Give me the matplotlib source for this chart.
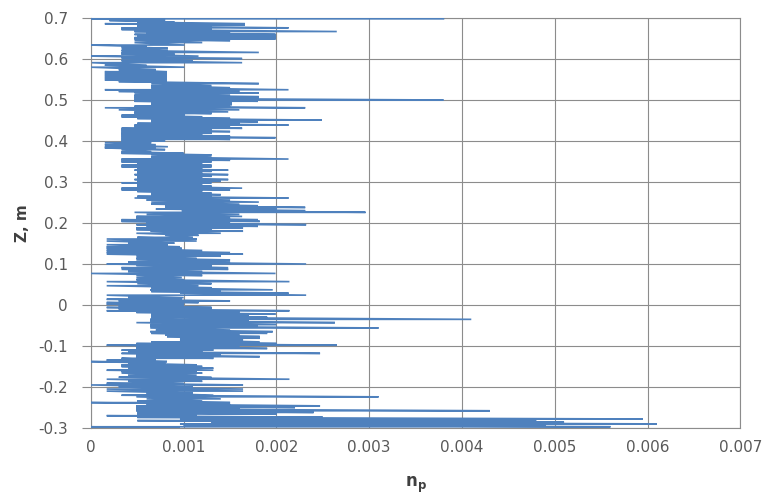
import matplotlib
matplotlib.use('Agg')
import matplotlib.pyplot as plt

# Concentration profile n_p over height Z.
# Each row is one stroke of the zigzag trace: height (m), left and right end (x 1e-3)
z_rows = [
    -0.300, -0.297, -0.293, -0.290, -0.286, -0.282, -0.278, -0.274, -0.270, -0.266,
    -0.262, -0.258, -0.254, -0.250, -0.246, -0.242, -0.238, -0.234, -0.229, -0.224,
    -0.220, -0.215, -0.210, -0.205, -0.200, -0.195, -0.191, -0.186, -0.181, -0.176,
    -0.171, -0.166, -0.162, -0.159, -0.154, -0.150, -0.146, -0.142, -0.138, -0.134,
    -0.130, -0.126, -0.122, -0.118, -0.114, -0.110, -0.106, -0.102, -0.098, -0.094,
    -0.090, -0.085, -0.081, -0.077, -0.073, -0.069, -0.065, -0.061, -0.056, -0.052,
    -0.048, -0.043, -0.039, -0.035, -0.030, -0.026, -0.022, -0.018, -0.014, -0.010,
    -0.006, -0.002, 0.002, 0.006, 0.010, 0.014, 0.018, 0.024, 0.029, 0.033,
    0.037, 0.042, 0.047, 0.052, 0.057, 0.062, 0.067, 0.072, 0.077, 0.082,
    0.087, 0.091, 0.096, 0.100, 0.105, 0.110, 0.114, 0.119, 0.124, 0.128,
    0.133, 0.138, 0.142, 0.147, 0.151, 0.156, 0.161, 0.165, 0.170, 0.175,
    0.180, 0.184, 0.188, 0.192, 0.196, 0.200, 0.204, 0.208, 0.212, 0.216,
    0.221, 0.226, 0.230, 0.234, 0.238, 0.242, 0.246, 0.251, 0.256, 0.261,
    0.265, 0.269, 0.273, 0.277, 0.281, 0.285, 0.290, 0.294, 0.298, 0.302,
    0.306, 0.310, 0.314, 0.318, 0.322, 0.326, 0.329, 0.333, 0.337, 0.341,
    0.345, 0.349, 0.353, 0.356, 0.361, 0.366, 0.370, 0.374, 0.379, 0.383,
    0.386, 0.391, 0.396, 0.400, 0.404, 0.408, 0.412, 0.416, 0.419, 0.423,
    0.427, 0.431, 0.435, 0.439, 0.443, 0.447, 0.451, 0.455, 0.459, 0.463,
    0.467, 0.471, 0.476, 0.481, 0.485, 0.489, 0.493, 0.497, 0.500, 0.504,
    0.508, 0.512, 0.517, 0.521, 0.525, 0.530, 0.535, 0.540, 0.545, 0.549,
    0.553, 0.557, 0.561, 0.565, 0.569, 0.574, 0.580, 0.585, 0.591, 0.596,
    0.601, 0.604, 0.607, 0.612, 0.616, 0.621, 0.626, 0.630, 0.634, 0.640,
    0.645, 0.649, 0.652, 0.656, 0.660, 0.664, 0.667, 0.672, 0.676, 0.680,
    0.683, 0.686, 0.690, 0.694, 0.698,
]
left = [
    0.00, 0.00, 1.00, 0.96, 1.30, 0.50, 0.96, 0.50, 0.17, 0.50,
    0.50, 0.49, 0.49, 0.49, 0.49, 0.60, 0.00, 0.50, 0.60, 0.49,
    0.33, 0.60, 0.17, 0.17, 0.30, 0.00, 0.17, 0.40, 0.17, 0.30,
    0.40, 0.33, 0.33, 0.17, 0.40, 0.33, 0.33, 0.40, 0.00, 0.17,
    0.33, 0.49, 0.49, 0.33, 0.40, 0.33, 0.49, 0.49, 0.17, 0.49,
    0.65, 0.96, 0.96, 0.82, 0.80, 0.65, 0.64, 0.70, 0.64, 0.64,
    0.64, 0.49, 0.64, 0.64, 0.65, 0.65, 0.65, 0.49, 0.17, 0.30,
    0.17, 0.30, 0.17, 0.17, 0.30, 0.17, 0.40, 0.17, 0.96, 0.65,
    0.64, 0.65, 0.17, 0.50, 0.17, 0.49, 0.49, 0.49, 0.00, 0.40,
    0.33, 0.33, 0.49, 0.17, 0.40, 0.49, 0.49, 0.49, 0.17, 0.17,
    0.17, 0.17, 0.17, 0.17, 0.40, 0.17, 0.17, 0.50, 0.80, 0.49,
    0.64, 0.49, 0.49, 0.60, 0.49, 0.60, 0.33, 0.33, 0.49, 0.49,
    0.60, 0.47, 0.98, 0.70, 0.80, 0.80, 0.65, 0.65, 0.60, 0.47,
    0.50, 0.65, 0.65, 0.50, 0.33, 0.33, 0.50, 0.50, 0.33, 0.50,
    0.47, 0.50, 0.50, 0.47, 0.50, 0.50, 0.47, 0.50, 0.33, 0.33,
    0.50, 0.33, 0.33, 0.33, 0.65, 0.65, 0.33, 0.33, 0.33, 0.15,
    0.15, 0.15, 0.15, 0.33, 0.33, 0.33, 0.33, 0.33, 0.33, 0.33,
    0.33, 0.33, 0.47, 0.47, 0.50, 0.65, 0.65, 0.50, 0.33, 0.33,
    0.47, 0.47, 0.30, 0.15, 0.47, 0.65, 0.65, 0.47, 0.47, 0.47,
    0.47, 0.47, 0.47, 0.30, 0.15, 0.65, 0.65, 0.65, 0.30, 0.15,
    0.15, 0.15, 0.15, 0.15, 0.15, 0.30, 0.00, 0.15, 0.01, 0.33,
    0.33, 0.33, 0.00, 0.33, 0.33, 0.33, 0.33, 0.33, 0.00, 0.47,
    0.47, 0.47, 0.47, 0.50, 0.47, 0.60, 0.47, 0.33, 0.33, 0.50,
    0.50, 0.15, 0.50, 0.20, 0.00,
]
right = [
    0.96, 5.60, 4.90, 6.10, 5.10, 4.80, 5.95, 2.50, 1.14, 2.00,
    2.40, 4.30, 1.60, 2.20, 2.47, 1.50, 1.50, 1.20, 1.40, 3.10,
    1.32, 1.10, 1.64, 1.64, 1.10, 1.64, 1.00, 1.20, 2.14, 1.30,
    1.14, 1.20, 1.14, 1.32, 1.32, 1.20, 1.14, 0.80, 0.82, 0.70,
    1.32, 1.82, 1.40, 2.47, 1.20, 1.32, 1.90, 1.60, 2.65, 2.00,
    1.82, 1.64, 1.82, 1.82, 1.60, 1.90, 1.96, 1.50, 3.10, 1.80,
    2.00, 2.63, 1.70, 4.10, 1.90, 1.70, 1.99, 1.60, 2.14, 1.30,
    1.30, 1.00, 1.00, 1.16, 1.50, 0.98, 1.00, 2.32, 2.13, 1.40,
    1.96, 1.30, 1.16, 1.30, 2.14, 1.00, 0.98, 1.20, 1.99, 1.20,
    1.48, 1.48, 1.30, 2.32, 1.50, 1.50, 1.14, 1.40, 1.64, 1.50,
    1.20, 0.98, 0.96, 0.83, 0.90, 1.14, 1.14, 1.10, 1.16, 1.40,
    1.64, 1.30, 1.64, 1.80, 2.32, 1.50, 1.82, 1.80, 1.50, 1.63,
    1.60, 2.96, 2.31, 2.00, 2.31, 1.80, 1.60, 1.81, 1.50, 2.13,
    1.30, 1.40, 1.30, 1.20, 1.50, 1.63, 1.30, 1.20, 1.30, 1.40,
    1.48, 1.20, 1.30, 1.48, 1.20, 1.30, 1.48, 1.20, 1.30, 1.30,
    1.20, 1.30, 1.50, 2.13, 1.30, 1.30, 1.00, 0.65, 0.80, 0.70,
    0.83, 0.70, 0.65, 0.80, 1.50, 1.99, 1.50, 1.20, 1.30, 1.50,
    1.30, 1.63, 1.50, 2.13, 1.60, 1.80, 2.49, 1.50, 1.20, 1.01,
    1.30, 1.48, 1.60, 2.31, 1.50, 1.52, 1.52, 1.80, 3.80, 1.81,
    1.81, 1.50, 1.81, 1.60, 2.13, 1.50, 1.30, 1.81, 0.82, 0.82,
    0.82, 0.82, 0.82, 0.82, 0.82, 0.70, 1.01, 0.60, 1.63, 1.10,
    1.63, 0.80, 1.16, 0.90, 1.81, 0.83, 0.83, 0.60, 1.01, 1.20,
    1.50, 1.99, 1.99, 1.99, 1.99, 1.50, 2.65, 1.30, 2.13, 1.30,
    1.66, 1.66, 0.90, 0.80, 3.80,
]
assert len(z_rows) == len(left) == len(right)

x_ticks = [0, 0.001, 0.002, 0.003, 0.004, 0.005, 0.006, 0.007]
x_labels = ['0', '0.001', '0.002', '0.003', '0.004', '0.005', '0.006', '0.007']
z_ticks = [-0.3, -0.2, -0.1, 0, 0.1, 0.2, 0.3, 0.4, 0.5, 0.6, 0.7]
z_labels = ['-0.3', '-0.2', '-0.1', '0', '0.1', '0.2', '0.3', '0.4', '0.5', '0.6', '0.7']

# flatten rows into one continuous trace
zs, xs = [], []
for z, a, b in zip(z_rows, left, right):
    zs += [z, z]
    xs += [a * 1e-3, b * 1e-3]

grid_col = '#8c8c8c'
text_col = '#595959'

fig = plt.figure(figsize=(7.64, 5.0), dpi=100)
ax = fig.add_axes([0.119, 0.144, 0.850, 0.820])

ax.plot(xs, zs, color='#4f81bd', lw=1.2, solid_joinstyle='miter', zorder=3)

ax.set_xlim(0, 0.007)
ax.set_ylim(-0.3, 0.7)
ax.set_xticks(x_ticks)
ax.set_xticklabels(x_labels)
ax.set_yticks(z_ticks)
ax.set_yticklabels(z_labels)
ax.grid(True, color=grid_col, lw=0.8)
ax.set_axisbelow(True)
for s in ax.spines.values():
    s.set_color(grid_col)
    s.set_linewidth(0.8)
ax.tick_params(axis='y', direction='out', length=6.5, width=0.8, color=grid_col,
               labelsize=11, labelcolor=text_col, pad=10)
ax.tick_params(axis='x', length=0, labelsize=11, labelcolor=text_col, pad=9)

ax.set_xlabel(r'$\mathbf{n_p}$', fontsize=12, color='#404040', labelpad=14)
ax.set_ylabel('Z, m', fontsize=11, fontweight='bold', color='#404040', labelpad=6)

fig.savefig('out.png', dpi=100)
